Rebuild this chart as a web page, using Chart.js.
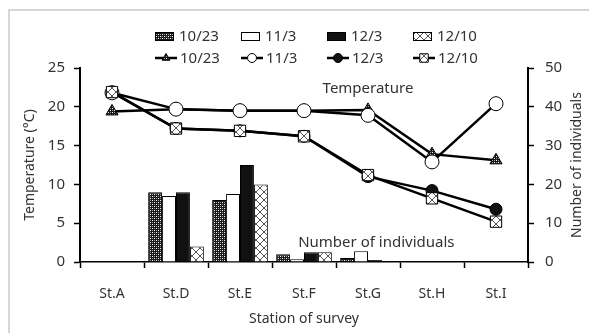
<!DOCTYPE html>
<html>
<head>
<meta charset="utf-8">
<script src="https://cdn.jsdelivr.net/npm/chart.js@4.4.0/dist/chart.umd.min.js"></script>
<style>
html, body { margin: 0; padding: 0; background: #fff; }
#wrap { position: relative; width: 589px; height: 333px; overflow: hidden; }
#frame { position: absolute; left: 8px; top: 9px; width: 700px; height: 400px; border-left: 2px solid #d6d6d6; border-top: 2px solid #d6d6d6; }
canvas { position: absolute; left: 0; top: 0; }
</style>
</head>
<body>
<div id="wrap"><div id="frame"></div><canvas id="myChart" width="589" height="333"></canvas></div>
<script>
// stations and survey dates
let stations = ['St.A', 'St.D', 'St.E', 'St.F', 'St.G', 'St.H', 'St.I'];
let dates = ['10/23', '11/3', '12/3', '12/10'];

// number of individuals (right axis)
let count1023 = [0, 18, 16, 2, 1, 0, 0];
let count113 = [0, 17, 17.5, 0.7, 2.8, 0, 0];
let count123 = [0, 18, 25, 2.5, 0.5, 0, 0];
let count1210 = [0, 4, 20, 2.5, 0, 0, 0];

// temperature (left axis)
let temp1023 = [19.4, 19.7, 19.5, 19.5, 19.6, 13.9, 13.1];
let temp113 = [21.8, 19.7, 19.5, 19.5, 18.9, 12.9, 20.4];
let temp123 = [21.9, 17.2, 16.9, 16.2, 11.0, 9.2, 6.8];
let temp1210 = [21.9, 17.2, 16.9, 16.2, 11.2, 8.2, 5.2];

let tempMax = 25, countMax = 50;
let font = '"Noto Sans", sans-serif';
let textColor = '#333';

let ctx = document.getElementById('myChart').getContext('2d');

function makePattern(size, draw) {
    let c = document.createElement('canvas');
    c.width = size; c.height = size;
    draw(c.getContext('2d'));
    return ctx.createPattern(c, 'repeat');
}

// dense dotted fill
let densePat = makePattern(4, g => {
    g.fillStyle = '#1a1a1a'; g.fillRect(0, 0, 4, 4);
    g.fillStyle = '#fff'; g.fillRect(0, 0, 1, 1); g.fillRect(2, 2, 1, 1);
    g.fillStyle = '#999'; g.fillRect(2, 0, 1, 1); g.fillRect(0, 2, 1, 1);
});
// light cross hatch
let crossPat = makePattern(8, g => {
    g.fillStyle = '#fff'; g.fillRect(0, 0, 8, 8);
    g.strokeStyle = '#555'; g.lineWidth = 1;
    g.beginPath();
    g.moveTo(0, 0); g.lineTo(8, 8);
    g.moveTo(8, 0); g.lineTo(0, 8);
    g.stroke();
});

let barFills = [densePat, '#fff', '#111', crossPat];
let counts = [count1023, count113, count123, count1210];
let temps = [temp1023, temp113, temp123, temp1210];
let pointStyles = ['triangle', 'circle', 'circle', 'rect'];
let pointSizes = [7, 7, 6, 8];
let pointFills = [densePat, '#fff', '#111', crossPat];
let lineOrder = [3, 1, 2, 0];

let datasets = [];
dates.forEach((d, i) => {
    datasets.push({
        type: 'bar',
        label: d,
        data: counts[i],
        yAxisID: 'yN',
        backgroundColor: barFills[i],
        borderColor: '#000',
        borderWidth: 1,
        barPercentage: 1,
        categoryPercentage: 0.87,
        order: 4 + i
    });
});
dates.forEach((d, i) => {
    datasets.push({
        type: 'line',
        label: d,
        data: temps[i],
        yAxisID: 'yT',
        borderColor: '#000',
        borderWidth: 2.5,
        pointStyle: pointStyles[i],
        pointRadius: pointSizes[i],
        pointBackgroundColor: pointFills[i],
        pointBorderColor: '#000',
        pointBorderWidth: 1,
        order: lineOrder[i]
    });
});

let extras = {
    id: 'extras',
    afterDraw(chart) {
        let c = chart.ctx;
        let xs = chart.scales.x, yT = chart.scales.yT, yN = chart.scales.yN;
        let area = chart.chartArea;
        c.save();
        c.fillStyle = textColor;
        c.font = '15px ' + font;
        c.textAlign = 'center';
        c.textBaseline = 'middle';
        c.fillText('Temperature', xs.getPixelForValue(4), yT.getPixelForValue(22.3));
        c.fillText('Number of individuals', xs.getPixelForValue(4.13), yN.getPixelForValue(5));

        // right axis title, reading upward
        c.save();
        c.translate(577, (area.top + area.bottom) / 2);
        c.rotate(-Math.PI / 2);
        c.font = '14px ' + font;
        c.fillText('Number of individuals', 0, 0);
        c.restore();

        // two-row legend
        let ds = chart.data.datasets;
        let bars = ds.filter(d => d.type === 'bar');
        let lines = ds.filter(d => d.type === 'line');
        c.font = '15px ' + font;
        c.textAlign = 'left';
        bars.forEach((d, i) => {
            let x = 155 + i * 86, y = 36;
            c.fillStyle = d.backgroundColor;
            c.fillRect(x, y - 4, 19, 9);
            c.strokeStyle = '#000'; c.lineWidth = 1;
            c.strokeRect(x + 0.5, y - 3.5, 18, 8);
            c.fillStyle = textColor;
            c.fillText(d.label, x + 24, y + 1);
        });
        lines.forEach((d, i) => {
            let x = 155 + i * 86, y = 58;
            c.strokeStyle = '#000'; c.lineWidth = 2.5;
            c.beginPath(); c.moveTo(x, y); c.lineTo(x + 22, y); c.stroke();
            c.fillStyle = d.pointBackgroundColor;
            c.lineWidth = 1;
            Chart.helpers.drawPoint(c, { pointStyle: d.pointStyle, radius: d.pointStyle === 'rect' ? 6 : 4.5, borderWidth: 1, rotation: 0 }, x + 11, y);
            c.fillStyle = textColor;
            c.fillText(d.label, x + 25, y + 1);
        });
        c.restore();
    }
};

let myChart = new Chart(ctx, {
    type: 'bar',
    data: {
        labels: stations,
        datasets: datasets
    },
    options: {
        responsive: false,
        animation: false,
        layout: { padding: { top: 68, left: 18, right: 0, bottom: 0 } },
        plugins: {
            legend: { display: false },
            tooltip: { enabled: false }
        },
        scales: {
            x: {
                grid: { offset: true, drawOnChartArea: false, tickLength: 6, color: '#000', tickWidth: 1.5 },
                border: { color: '#000', width: 1.5 },
                ticks: { color: textColor, font: { family: font, size: 14 }, padding: 18 },
                title: { display: true, text: 'Station of survey', color: textColor, font: { family: font, size: 14 }, padding: 6 },
                afterFit(s) { s.height = 71; }
            },
            yT: {
                position: 'left',
                min: 0, max: tempMax,
                ticks: { stepSize: 5, color: textColor, font: { family: font, size: 15 }, padding: 9 },
                grid: { drawOnChartArea: false, tickLength: 6, color: '#000', tickWidth: 1.5 },
                border: { color: '#000', width: 2 },
                title: { display: true, text: 'Temperature (°C)', color: textColor, font: { family: font, size: 14 }, padding: 4 },
                afterFit(s) { s.width = 62; }
            },
            yN: {
                position: 'right',
                min: 0, max: countMax,
                ticks: { stepSize: 10, color: textColor, font: { family: font, size: 15 }, padding: 11 },
                grid: { drawOnChartArea: false, tickLength: 6, color: '#000', tickWidth: 1.5 },
                border: { color: '#000', width: 2 },
                afterFit(s) { s.width = 61; }
            }
        }
    },
    plugins: [extras]
});
</script>
</body>
</html>
